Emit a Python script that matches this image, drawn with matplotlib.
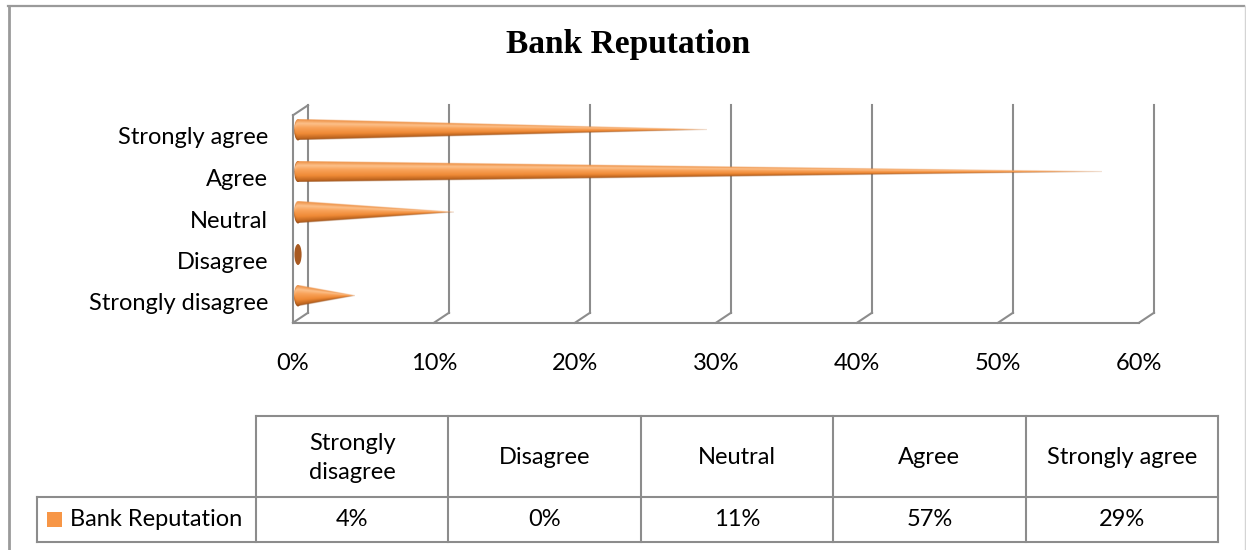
import numpy as np
import matplotlib
matplotlib.use("Agg")
import matplotlib.pyplot as plt
from matplotlib.colors import LinearSegmentedColormap
from matplotlib.patches import Ellipse, Rectangle
from matplotlib.lines import Line2D

# survey results, bottom to top
categories = ["Strongly disagree", "Disagree", "Neutral", "Agree", "Strongly agree"]
values = [4, 0, 11, 57, 29]
table_headers = ["Strongly\ndisagree", "Disagree", "Neutral", "Agree", "Strongly agree"]
x_ticks = [0, 10, 20, 30, 40, 50, 60]
series_name = "Bank Reputation"

W, H = 1246, 550
GRID = "#8c8c8c"
LABEL_FONT = ["Lato", "DejaVu Sans"]
FS = 17


def px_box(left, top, right, bottom):
    return [left / W, 1 - bottom / H, (right - left) / W, (bottom - top) / H]


fig = plt.figure(figsize=(W / 100, H / 100), dpi=100)
fig.patch.set_facecolor("white")

# chart frame
fig.add_artist(Line2D([8.5 / W, 8.5 / W], [0, 1 - 5.5 / H], transform=fig.transFigure, color="#9a9a9a", lw=2))
fig.add_artist(Line2D([8 / W, 1244 / W], [1 - 5.5 / H, 1 - 5.5 / H], transform=fig.transFigure, color="#9a9a9a", lw=1.6))
fig.add_artist(Line2D([1244.5 / W, 1244.5 / W], [0, 1 - 5.5 / H], transform=fig.transFigure, color="#d4d4d4", lw=1))

fig.text(628 / W, 1 - 45 / H, series_name, ha="center", va="center",
         family=["Liberation Serif", "DejaVu Serif"], weight="bold", fontsize=24)

# ---- 3D cone bar chart ----
ax_l, ax_t, ax_r, ax_b = 293, 115.25, 1139, 322.75
ax = fig.add_axes(px_box(ax_l, ax_t, ax_r, ax_b))
ax.set_xlim(0, 60)
ax.set_ylim(-0.5, 4.5)
ux = (ax_r - ax_l) / 60.0          # px per percent
uy = (ax_b - ax_t) / 5.0           # px per category
bx, by = 15 / ux, 10 / uy          # depth of the back wall
cx, cy = 5 / ux, 6 / uy            # cones sit mid-depth

for t in x_ticks:
    ax.plot([t + bx, t + bx], [-0.5 + by, 4.5 + by], color=GRID, lw=1.5, clip_on=False, zorder=1)
    ax.plot([t, t + bx], [-0.5, -0.5 + by], color=GRID, lw=1.5, clip_on=False, zorder=1)
ax.plot([0, 60], [-0.5, -0.5], color=GRID, lw=1.5, clip_on=False, zorder=1)
ax.plot([0, 0], [-0.5, 4.5], color=GRID, lw=1.5, clip_on=False, zorder=1)
ax.plot([0, bx], [4.5, 4.5 + by], color=GRID, lw=1.5, clip_on=False, zorder=1)

shade = LinearSegmentedColormap.from_list("cone", [
    (0.00, "#9a5019"),
    (0.08, "#c0661f"),
    (0.30, "#ef8a36"),
    (0.60, "#f9a35a"),
    (0.80, "#fcc08a"),
    (1.00, "#ec8c3e"),
])

r = 10.5 / uy          # cone base radius (category units)
a = 4.0 / ux           # base ellipse half-width (percent units)
for i, v in enumerate(values):
    x0, yc = cx, i + cy
    ax.add_patch(Ellipse((x0, yc), 2 * a * 0.9, 2 * r, facecolor="#a85a22", edgecolor="none", zorder=2))
    if v <= 0:
        continue
    nx, ny = 900, 90
    xs = np.linspace(x0 - a, x0 + v, nx)
    ys = np.linspace(yc - r, yc + r, ny)
    X, Y = np.meshgrid(xs, ys)
    hw = np.where(X >= x0, r * (1 - (X - x0) / v),
                  r * np.sqrt(np.clip(1 - ((X - x0) / a) ** 2, 0, 1)))
    hw = np.clip(hw, 1e-9, None)
    tt = np.clip((Y - yc) / hw, -1, 1)
    rgba = shade((tt + 1) / 2)
    edge = (hw - np.abs(Y - yc)) * uy
    rgba[..., 3] = np.clip(edge + 0.5, 0, 1)
    ax.imshow(rgba, extent=[x0 - a, x0 + v, yc - r, yc + r], origin="lower",
              aspect="auto", interpolation="bilinear", zorder=3)

ax.set_xlim(0, 60)
ax.set_ylim(-0.5, 4.5)
for s in ax.spines.values():
    s.set_visible(False)
ax.set_xticks(x_ticks, [f"{t}%" for t in x_ticks])
ax.set_yticks(range(len(categories)), categories)
ax.tick_params(axis="x", length=0, pad=22, labelsize=FS)
ax.tick_params(axis="y", length=0, pad=18, labelsize=FS)
for lab in ax.get_xticklabels() + ax.get_yticklabels():
    lab.set_family(LABEL_FONT)
ax.patch.set_alpha(0)

# ---- data table ----
tb_l, tb_t, tb_r, tb_b = 37, 416, 1218, 542
col_px = (tb_r - 256) / len(categories)
lab_w = (256 - tb_l) / col_px
hdr_h = (497 - tb_t) / (tb_b - 497)
n = len(categories)
tax = fig.add_axes(px_box(tb_l, tb_t, tb_r, tb_b))
tax.set_xlim(-lab_w, n)
tax.set_ylim(0, 1 + hdr_h)
tax.axis("off")

lk = dict(color=GRID, lw=1.5, clip_on=False, solid_capstyle="projecting")
tax.plot([-lab_w, n], [0, 0], **lk)
tax.plot([-lab_w, n], [1, 1], **lk)
tax.plot([0, n], [1 + hdr_h, 1 + hdr_h], **lk)
tax.plot([-lab_w, -lab_w], [0, 1], **lk)
for j in range(n + 1):
    tax.plot([j, j], [0, 1 + hdr_h], **lk)

for j, (hdr, v) in enumerate(zip(table_headers, values)):
    tax.text(j + 0.5, 1 + hdr_h / 2 - 0.03, hdr, ha="center", va="center", fontsize=FS,
             family=LABEL_FONT, linespacing=1.45)
    tax.text(j + 0.5, 0.5, f"{v}%", ha="center", va="center", fontsize=FS, family=LABEL_FONT)

sq = 15 / col_px
tax.add_patch(Rectangle((-lab_w + 10 / col_px, 0.5 - 7.5 / 45), sq, 15 / 45,
                        facecolor="#f79646", edgecolor="none"))
tax.text(-lab_w + 33 / col_px, 0.5, series_name, ha="left", va="center",
         fontsize=FS, family=LABEL_FONT)

fig.savefig("out.png", dpi=100, facecolor="white")
